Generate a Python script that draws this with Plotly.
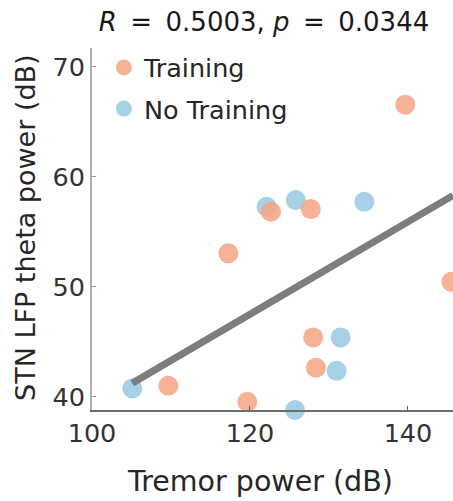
import plotly.graph_objects as go

# ---- data ----
train_x = [139.66, 122.66, 127.7, 117.26, 109.66, 119.66, 128.0, 128.35, 145.5]
train_y = [66.55, 56.82, 57.06, 53.04, 41.0, 39.55, 45.4, 42.64, 50.45]
notrain_x = [144.4, 122.1, 125.8, 134.47, 105.1, 131.47, 130.97, 125.7]
notrain_y = [71.8, 57.27, 57.88, 57.73, 40.76, 45.4, 42.36, 38.8]

# regression line parameters
fit_slope = 0.42
fit_ref_x = 120.0
fit_ref_y = 47.5

x_range = [100, 145.7]
y_range = [38.8, 71.7]
x_ticks = [100, 120, 140]
y_ticks = [40, 50, 60, 70]

SP = " \u2009"
title_text = f"<i>R</i>{SP}={SP}0.5003, <i>p</i>{SP}={SP}0.0344"
x_label = "Tremor power (dB)"
y_label = "STN LFP theta power (dB)"

ORANGE = "rgb(244,165,130)"
BLUE = "rgb(146,197,222)"
FONT = "DejaVu Sans"
FS = 25.5

W, H = 453, 501
ML, MR, MT, MB = 92, 0, 48, 91

fit_x = [min(train_x + notrain_x), x_range[1]]
fit_y = [fit_ref_y + fit_slope * (v - fit_ref_x) for v in fit_x]

fig = go.Figure()
fig.add_trace(go.Scatter(
    x=notrain_x, y=notrain_y, mode="markers", name="No Training",
    legendgroup="b", legendrank=2,
    marker=dict(size=20, color=BLUE, opacity=0.8, line=dict(width=0)),
    cliponaxis=False))
fig.add_trace(go.Scatter(
    x=train_x, y=train_y, mode="markers", name="Training",
    legendgroup="a", legendrank=1,
    marker=dict(size=20, color=ORANGE, opacity=0.85, line=dict(width=0)),
    cliponaxis=False))
fig.add_trace(go.Scatter(
    x=fit_x, y=fit_y, mode="lines", showlegend=False,
    line=dict(color="rgb(125,125,125)", width=7), cliponaxis=False))

pw = W - ML - MR
ph = H - MT - MB

fig.update_layout(
    width=W, height=H,
    margin=dict(l=ML, r=MR, t=MT, b=MB, pad=0),
    paper_bgcolor="white", plot_bgcolor="white",
    font=dict(family=FONT, size=FS, color="#262626"),
    title=dict(text=title_text, x=264 / W, xanchor="center",
               y=1 - 22 / H, yanchor="middle", yref="container",
               font=dict(family=FONT, size=26, color="#1a1a1a")),
    showlegend=True,
    legend=dict(x=0.033, y=1.01, xanchor="left", yanchor="top",
                bgcolor="rgba(0,0,0,0)", borderwidth=0,
                traceorder="grouped", tracegroupgap=5,
                font=dict(family=FONT, size=FS, color="#262626")),
    xaxis=dict(range=x_range, tickvals=x_ticks, ticks="inside", ticklen=4,
               tickcolor="#666", showline=True, linecolor="#6e6e6e", linewidth=1.5,
               showgrid=False, zeroline=False, mirror=False,
               tickfont=dict(family=FONT, size=FS, color="#333")),
    yaxis=dict(range=y_range, tickvals=y_ticks, ticks="inside", ticklen=4,
               tickcolor="#999", showline=True, linecolor="#b0b0b0", linewidth=2,
               showgrid=False, zeroline=False, mirror=False,
               tickfont=dict(family=FONT, size=FS, color="#333")),
    annotations=[
        dict(text=x_label, xref="paper", yref="paper",
             x=(260 - ML) / pw, y=(H - MB - 481) / ph,
             xanchor="center", yanchor="middle", showarrow=False,
             font=dict(family=FONT, size=28.5, color="#262626")),
        dict(text=y_label, xref="paper", yref="paper", textangle=-90,
             x=(26 - ML) / pw, y=(H - MB - 228) / ph,
             xanchor="center", yanchor="middle", showarrow=False,
             font=dict(family=FONT, size=27, color="#262626")),
    ],
)

fig.write_html("out.html")
